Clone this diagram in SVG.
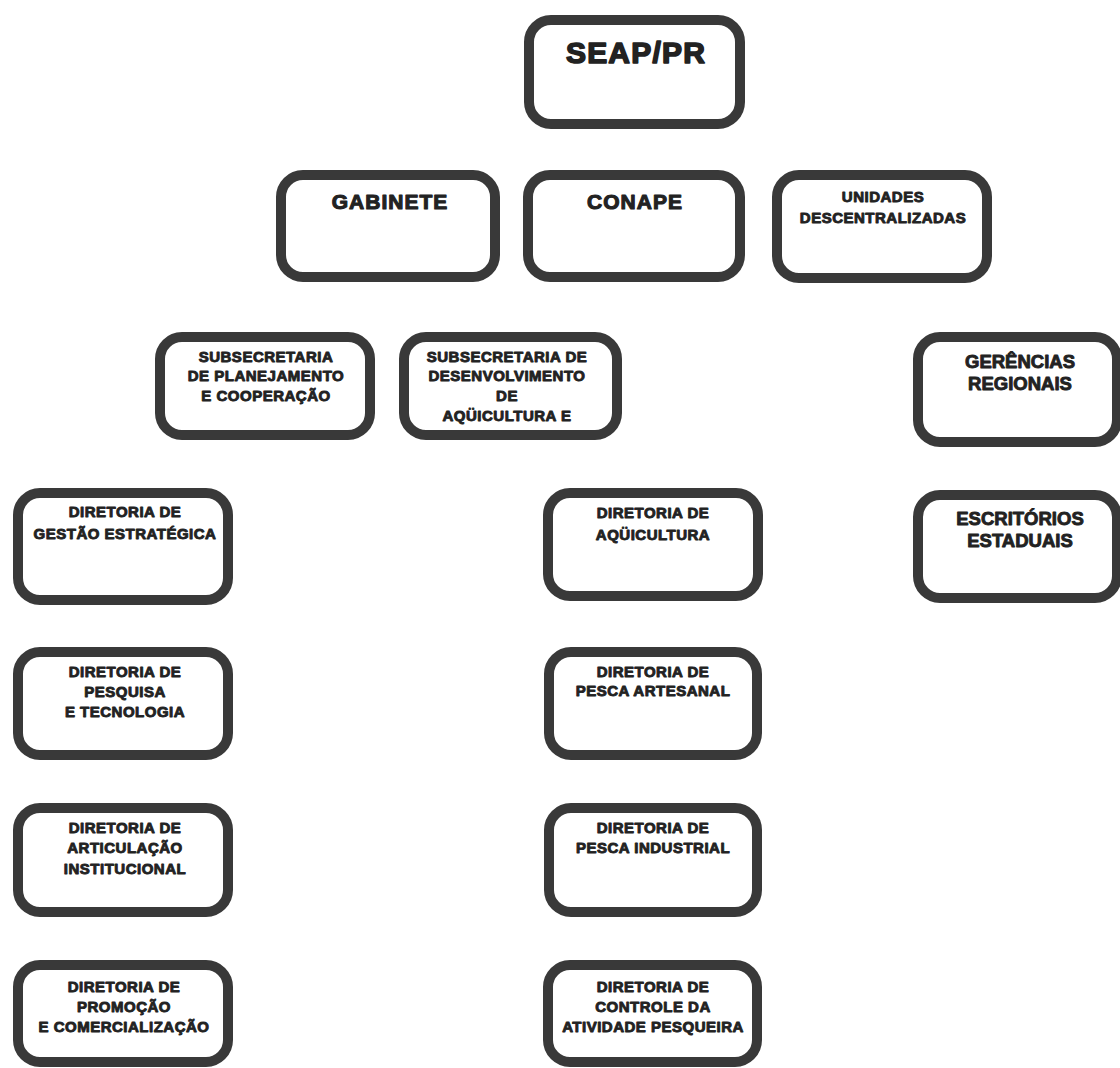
<svg xmlns="http://www.w3.org/2000/svg" width="1120" height="1068" viewBox="0 0 1120 1068">
<style>
.box{fill:#ffffff;stroke:#393939;stroke-width:10;}
text{font-family:"Liberation Sans",Arial,sans-serif;font-weight:700;fill:#222222;text-anchor:middle;stroke:#222222;stroke-width:0.9;stroke-linejoin:round;}
.s{font-size:15px;letter-spacing:0.5px;}
.m{font-size:18.5px;letter-spacing:0px;}
.l{font-size:21px;letter-spacing:1px;stroke-width:1.1;}
.xl{font-size:30px;letter-spacing:1.2px;stroke-width:1.6;}
</style>
<rect width="1120" height="1068" fill="#ffffff"/>
<g id="connectors"></g>
<g id="seap"><rect class="box" x="529" y="20" width="211" height="104" rx="22"/><text class="xl" x="636" y="63">SEAP/PR</text></g>
<g id="gabinete"><rect class="box" x="281" y="175" width="214" height="102" rx="22"/><text class="l" x="390" y="209">GABINETE</text></g>
<g id="conape"><rect class="box" x="528" y="175" width="212" height="102" rx="22"/><text class="l" x="635" y="209">CONAPE</text></g>
<g id="unidades"><rect class="box" x="777" y="175" width="210" height="103" rx="22"/><text class="s" x="883" y="202">UNIDADES</text><text class="s" x="883" y="223">DESCENTRALIZADAS</text></g>
<g id="sub-planejamento"><rect class="box" x="160" y="337" width="210" height="98" rx="22"/><text class="s" x="266" y="362">SUBSECRETARIA</text><text class="s" x="266" y="381">DE PLANEJAMENTO</text><text class="s" x="266" y="401">E COOPERAÇÃO</text></g>
<g id="sub-desenvolvimento"><rect class="box" x="404" y="337" width="213" height="98" rx="22"/><text class="s" x="507" y="362">SUBSECRETARIA DE</text><text class="s" x="507" y="381">DESENVOLVIMENTO</text><text class="s" x="507" y="401">DE</text><text class="s" x="507" y="421">AQÜICULTURA E</text></g>
<g id="gerencias"><rect class="box" x="918" y="337" width="199" height="105" rx="22"/><text class="m" x="1020" y="368">GERÊNCIAS</text><text class="m" x="1020" y="390">REGIONAIS</text></g>
<g id="escritorios"><rect class="box" x="918" y="495" width="199" height="103" rx="22"/><text class="m" x="1020" y="525">ESCRITÓRIOS</text><text class="m" x="1020" y="547">ESTADUAIS</text></g>
<g id="dir-gestao"><rect class="box" x="18" y="493" width="210" height="107" rx="22"/><text class="s" x="125" y="517">DIRETORIA DE</text><text class="s" x="125" y="539">GESTÃO ESTRATÉGICA</text></g>
<g id="dir-aquicultura"><rect class="box" x="548" y="493" width="210" height="103" rx="22"/><text class="s" x="653" y="518">DIRETORIA DE</text><text class="s" x="653" y="540">AQÜICULTURA</text></g>
<g id="dir-pesquisa"><rect class="box" x="18" y="652" width="210" height="103" rx="22"/><text class="s" x="125" y="677">DIRETORIA DE</text><text class="s" x="125" y="697">PESQUISA</text><text class="s" x="125" y="717">E TECNOLOGIA</text></g>
<g id="dir-pesca-artesanal"><rect class="box" x="549" y="652" width="208" height="103" rx="22"/><text class="s" x="653" y="677">DIRETORIA DE</text><text class="s" x="653" y="696">PESCA ARTESANAL</text></g>
<g id="dir-articulacao"><rect class="box" x="18" y="808" width="210" height="104" rx="22"/><text class="s" x="125" y="833">DIRETORIA DE</text><text class="s" x="125" y="853">ARTICULAÇÃO</text><text class="s" x="125" y="874">INSTITUCIONAL</text></g>
<g id="dir-pesca-industrial"><rect class="box" x="549" y="808" width="208" height="104" rx="22"/><text class="s" x="653" y="833">DIRETORIA DE</text><text class="s" x="653" y="853">PESCA INDUSTRIAL</text></g>
<g id="dir-promocao"><rect class="box" x="18" y="965" width="210" height="97" rx="22"/><text class="s" x="124" y="992">DIRETORIA DE</text><text class="s" x="124" y="1012">PROMOÇÃO</text><text class="s" x="124" y="1032">E COMERCIALIZAÇÃO</text></g>
<g id="dir-controle"><rect class="box" x="548" y="965" width="209" height="97" rx="22"/><text class="s" x="653" y="992">DIRETORIA DE</text><text class="s" x="653" y="1012">CONTROLE DA</text><text class="s" x="653" y="1032">ATIVIDADE PESQUEIRA</text></g>
</svg>
